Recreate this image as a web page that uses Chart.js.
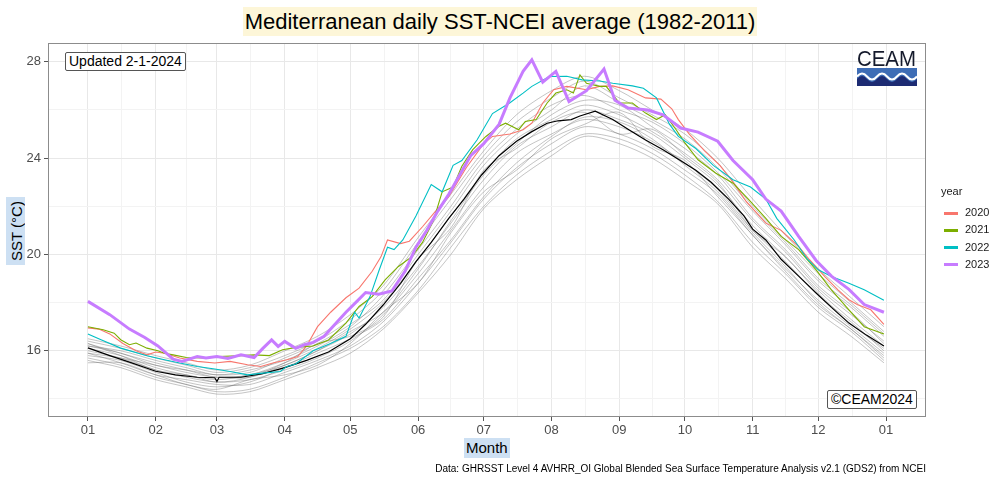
<!DOCTYPE html>
<html>
<head>
<meta charset="utf-8">
<script src="https://cdn.jsdelivr.net/npm/chart.js@4.4.0/dist/chart.umd.min.js"></script>
<style>
  body { margin: 0; background: #fff; }
  #wrap { position: relative; width: 1000px; height: 480px; font-family: "Liberation Sans", Arial, sans-serif; }
  #wrap div { position: absolute; white-space: nowrap; }
  #legend { left: 0; top: 0; width: 0; height: 0; }
  .title { left: 243px; top: 7px; width: 514px; height: 29px; line-height: 29px; background: #fdf6d8; font-size: 22px; text-align: center; color: #000; }
  .tag { border: 1px solid #555; border-radius: 2px; font-size: 14px; padding: 0 3px; line-height: 17px; color: #000; background: #fff; }
  .axt { background: #cde0f3; font-size: 15px; color: #000; }
  .lgd { font-size: 11px; color: #1a1a1a; }
  .sw { height: 3px; }
</style>
</head>
<body>
<div id="wrap">
  <canvas id="chart" width="1000" height="480"></canvas>
  <div class="title">Mediterranean daily SST-NCEI average (1982-2011)</div>
  <div class="tag" style="left:65px;top:52px;">Updated 2-1-2024</div>
  <div class="tag" style="left:827px;top:390px;">©CEAM2024</div>
  <div class="axt" style="left:464px;top:438px;height:20px;line-height:20px;padding:0 2px;">Month</div>
  <div class="axt" style="left:6px;top:197px;width:19px;height:68px;">
    <span style="position:absolute;left:50%;top:50%;transform:translate(-50%,-50%) rotate(-90deg);white-space:nowrap;">SST (°C)</span>
  </div>
  <div style="right:74px;top:463px;font-size:10px;color:#000;">Data: GHRSST Level 4 AVHRR_OI Global Blended Sea Surface Temperature Analysis v2.1 (GDS2) from NCEI</div>
  <div class="lgd" style="left:941px;top:185px;">year</div>
  <div id="legend"></div>
  <svg style="position:absolute;left:857px;top:48px;" width="60" height="40">
    <text x="0" y="18" font-family="Liberation Sans, Arial" font-size="22" textLength="59" lengthAdjust="spacingAndGlyphs" fill="#151a2c">CEAM</text>
    <rect x="0" y="20" width="60" height="18" fill="#3e6db6"/>
    <path d="M0,31 Q5,25 10,31 T20,31 T30,31 T40,31 T50,31 T60,31 L60,38 L0,38 Z" fill="#1d2b73"/>
    <path d="M0,28.5 Q5,22.5 10,28.5 T20,28.5 T30,28.5 T40,28.5 T50,28.5 T60,28.5" stroke="#fff" stroke-width="2" fill="none"/>
  </svg>
</div>
<script>
// day of year (0 = 1 Jan) and SST in degC
const monthDays = [0, 31, 59, 90, 120, 151, 181, 212, 243, 273, 304, 334, 365];
const monthLabels = ['01', '02', '03', '04', '05', '06', '07', '08', '09', '10', '11', '12', '01'];
const yTicks = [16, 20, 24, 28];
const yMinor = [14, 18, 22, 26];

const years = ['2020', '2021', '2022', '2023'];
const yearColors = ['#F8766D', '#7CAE00', '#00BFC4', '#C77CFF'];

// 1982-2011 climatology
const dayMean = [0,10,20,31,40,50,58,59,60,70,80,90,100,110,120,127,135,143,150,157,165,172,180,188,196,203,210,215,221,225,232,240,247,255,263,270,278,285,293,300,304,310,317,325,333,340,348,356,364];
const sstMean = [16.12,15.8,15.5,15.15,15.0,14.9,14.88,14.72,14.9,14.9,15.05,15.3,15.6,15.95,16.5,17.1,17.9,18.8,19.7,20.5,21.5,22.3,23.3,24.1,24.7,25.1,25.45,25.55,25.6,25.75,25.95,25.6,25.2,24.75,24.35,23.95,23.5,23.0,22.3,21.6,21.05,20.6,19.8,19.1,18.4,17.8,17.15,16.65,16.2];

const day2020 = [0,5,10,16,22,27,31,35,42,50,58,65,73,79,85,91,96,100,105,111,118,124,130,134,137,143,147,153,159,165,173,181,185,193,199,203,208,213,219,228,234,240,247,255,262,267,270,275,282,289,295,301,310,317,325,330,337,343,348,352,358,364];
const sst2020 = [16.95,16.9,16.7,16.3,16.0,15.83,15.95,15.9,15.7,15.56,15.49,15.56,15.42,15.35,15.5,15.63,15.76,16.2,17.0,17.6,18.2,18.6,19.3,19.9,20.6,20.45,20.55,21.15,21.8,22.4,23.6,24.6,24.9,25.0,25.18,25.45,26.29,26.84,26.98,26.84,26.98,27.0,26.84,26.5,26.45,26.05,25.6,25.0,24.3,23.7,23.0,22.2,21.3,21.0,20.33,19.78,19.08,18.53,18.12,17.91,17.7,17.1];

const day2021 = [0,7,12,15,19,22,27,32,35,39,45,53,60,68,76,83,89,96,103,110,118,124,130,136,142,148,153,158,162,167,171,176,182,188,191,197,200,205,210,214,219,222,225,228,234,237,243,249,255,260,264,269,273,279,287,295,302,310,317,325,333,340,348,355,364];
const sst2021 = [17.0,16.87,16.73,16.46,16.25,16.32,16.11,16.0,15.9,15.83,15.72,15.7,15.76,15.79,15.83,15.8,16.04,16.15,16.2,16.45,17.15,17.84,18.25,18.95,19.5,19.9,20.5,21.4,22.6,22.8,23.66,24.35,24.9,25.32,25.45,25.18,25.52,25.6,26.29,26.7,26.84,26.7,27.46,27.11,26.98,26.98,26.29,26.29,25.87,25.6,25.8,25.18,24.63,23.93,23.38,22.96,22.3,21.5,20.75,20.2,19.36,18.53,17.7,17.0,16.7];

const day2022 = [0,6,15,27,35,42,50,58,65,73,80,88,91,95,103,111,118,122,124,129,133,137,140,144,150,157,162,167,171,178,185,193,199,203,211,219,226,234,240,249,254,260,266,270,278,286,295,303,310,315,323,329,334,340,348,355,364];
const sst2022 = [16.7,16.46,16.11,15.79,15.63,15.49,15.35,15.24,15.14,15.0,15.07,15.14,15.35,15.45,16.0,16.3,16.6,17.6,17.36,18.25,19.3,20.3,20.2,20.6,21.6,22.9,22.6,23.7,23.9,24.76,25.85,26.3,26.7,26.98,27.39,27.4,27.25,27.2,27.11,27.0,26.9,26.5,25.4,24.9,24.4,23.7,23.1,22.8,22.3,21.5,20.6,19.8,19.36,19.08,18.8,18.53,18.1];

const day2023 = [0,10,19,26,32,39,43,50,54,59,64,70,76,80,84,87,90,95,99,103,108,113,118,123,127,133,139,145,150,155,160,165,170,175,181,188,193,199,203,208,214,220,228,236,241,247,256,263,271,279,288,295,304,310,317,325,333,340,348,355,364];
const sst2023 = [18.05,17.5,16.9,16.55,16.2,15.65,15.56,15.76,15.7,15.76,15.68,15.83,15.72,16.1,16.45,16.18,16.39,16.1,16.25,16.35,16.6,17.1,17.6,18.05,18.42,18.35,18.48,19.3,20.3,21.0,21.8,22.5,23.3,24.1,24.6,25.4,26.5,27.6,28.08,27.15,27.6,26.35,26.8,27.7,26.4,26.08,26.0,25.8,25.25,25.08,24.7,23.9,23.1,22.3,21.8,20.75,19.75,19.1,18.55,17.92,17.6];

// the other years (grey spaghetti), half-monthly readings
const dayGrey = [0,15,31,45,59,74,90,105,120,135,151,166,181,196,212,227,243,258,273,288,304,319,334,349,364];
const grey01 = [15.7,15.4,14.9,14.6,14.3,14.4,14.9,15.5,16.1,17.0,18.5,20.3,22.0,23.3,24.3,25.0,24.8,24.2,23.3,22.2,20.5,19.2,17.8,16.8,15.6];
const grey02 = [16.0,15.7,15.2,14.9,14.7,14.8,15.2,15.7,16.4,17.5,19.2,21.0,22.8,24.2,25.0,25.6,25.3,24.7,23.8,22.7,21.0,19.7,18.3,17.2,16.0];
const grey03 = [16.3,15.9,15.5,15.2,14.9,15.0,15.5,16.1,16.9,18.0,19.8,21.6,23.4,24.8,25.6,26.2,25.8,25.1,24.2,23.1,21.4,20.1,18.6,17.5,16.4];
const grey04 = [15.8,15.6,15.1,14.7,14.5,14.7,15.3,15.9,16.5,17.3,19.0,20.6,22.4,23.8,24.9,25.7,25.5,24.8,23.7,22.6,20.9,19.5,18.0,16.9,15.8];
const grey05 = [16.2,16.0,15.6,15.3,15.0,15.2,15.6,16.2,17.0,18.3,20.2,22.0,23.9,25.2,26.2,26.6,26.0,25.5,24.6,23.4,21.8,20.4,18.9,17.8,16.6];
const grey06 = [16.4,16.1,15.7,15.4,15.1,15.3,15.8,16.4,17.3,18.5,20.5,22.3,24.1,25.5,26.5,27.2,26.5,25.8,25.0,23.8,22.0,20.6,19.2,18.0,16.8];
const grey07 = [15.9,15.5,15.0,14.8,14.6,14.6,15.1,15.6,16.2,17.2,18.8,20.5,22.3,23.6,24.6,25.3,25.0,24.4,23.5,22.5,20.8,19.4,18.1,17.0,15.9];
const grey08 = [16.1,15.8,15.3,15.0,14.8,15.0,15.4,16.0,16.7,17.8,19.5,21.3,23.1,24.5,25.3,26.0,25.6,25.0,24.0,22.9,21.2,19.9,18.5,17.3,16.2];
const grey09 = [15.9,15.7,15.4,15.1,14.9,14.9,15.4,16.0,16.8,17.6,19.4,21.4,23.3,24.6,25.8,26.4,26.2,25.3,24.4,23.3,21.5,20.2,18.7,17.6,16.3];
const grey10 = [16.2,15.9,15.4,15.2,15.0,15.1,15.7,16.3,17.1,18.1,20.0,21.8,23.7,25.0,26.0,27.0,26.3,25.6,24.8,23.6,21.9,20.5,19.0,17.9,16.7];
const grey11 = [15.6,15.3,14.8,14.5,14.2,14.3,14.8,15.3,15.9,16.9,18.4,20.0,21.9,23.1,24.1,24.9,24.6,24.0,23.1,22.1,20.3,19.0,17.6,16.6,15.5];
const grey12 = [16.5,16.2,15.8,15.5,15.2,15.4,16.0,16.6,17.5,18.7,20.7,22.5,24.3,25.8,26.8,27.4,26.8,26.0,25.2,24.0,22.3,20.8,19.4,18.2,17.0];
const grey13 = [15.5,15.5,15.0,14.6,14.4,14.8,15.0,15.4,16.3,17.6,18.8,20.9,22.6,23.5,24.8,25.4,25.9,24.5,23.9,22.4,20.8,19.3,17.9,16.9,15.7];
const grey14 = [16.3,15.8,15.2,15.0,14.7,14.9,15.5,16.3,16.6,17.4,19.8,21.1,23.5,24.4,25.5,25.9,25.0,25.2,24.1,23.0,21.0,19.9,18.4,17.1,16.1];
const greyYears = [grey01, grey02, grey03, grey04, grey05, grey06, grey07, grey08, grey09, grey10, grey11, grey12, grey13, grey14];

function pts(days, vals) {
    return days.map((d, i) => ({ x: d, y: vals[i] }));
}

const datasets = [];
const yearDays = [day2020, day2021, day2022, day2023];
const yearSst = [sst2020, sst2021, sst2022, sst2023];
years.forEach((y, i) => {
    datasets.push({
        label: y,
        data: pts(yearDays[i], yearSst[i]),
        borderColor: yearColors[i],
        borderWidth: y === '2023' ? 3 : 1.1,
        order: 3 - i
    });
});
datasets.push({ label: 'mean', data: pts(dayMean, sstMean), borderColor: '#000', borderWidth: 1.2, order: 4 });
greyYears.forEach((g, i) => {
    datasets.push({
        label: 'grey' + i,
        data: pts(dayGrey, g),
        borderColor: 'rgba(100,100,100,0.38)',
        borderWidth: 1,
        tension: 0.3,
        order: 5
    });
});

// html legend for the highlighted years
const legendBox = document.getElementById('legend');
years.forEach((y, i) => {
    const top = 213 + i * 17.3;
    legendBox.insertAdjacentHTML('beforeend',
        '<div class="sw" style="left:944px;top:' + (top - 1.5) + 'px;width:14px;background:' + yearColors[i] + ';"></div>' +
        '<div class="lgd" style="left:965px;top:' + (top - 7) + 'px;">' + y + '</div>');
});

const xMinor = monthDays.slice(1).map((d, i) => (d + monthDays[i]) / 2);
const tickFont = { family: "'Liberation Sans', Arial, sans-serif", size: 13 };

const panelBorder = {
    id: 'panelBorder',
    afterDraw(chart) {
        const a = chart.chartArea, ctx = chart.ctx;
        ctx.save();
        ctx.strokeStyle = '#8c8c8c';
        ctx.lineWidth = 1;
        ctx.strokeRect(a.left + 0.5, a.top + 0.5, a.right - a.left - 1, a.bottom - a.top - 1);
        ctx.restore();
    }
};

new Chart(document.getElementById('chart').getContext('2d'), {
    type: 'line',
    data: { datasets: datasets },
    options: {
        responsive: false,
        animation: false,
        devicePixelRatio: 1,
        layout: { padding: { left: 0, top: 43, right: 74, bottom: 0 } },
        elements: { point: { radius: 0 }, line: { tension: 0 } },
        plugins: { legend: { display: false }, tooltip: { enabled: false } },
        scales: {
            x: {
                type: 'linear',
                min: -18.25,
                max: 383.25,
                afterBuildTicks: axis => {
                    axis.ticks = monthDays.concat(xMinor).sort((a, b) => a - b).map(v => ({ value: v }));
                },
                afterFit: axis => { axis.height = 63; },
                border: { display: false },
                grid: {
                    color: c => monthDays.includes(c.tick.value) ? '#e8e8e8' : '#f3f3f3',
                    lineWidth: 1,
                    tickLength: 4,
                    tickColor: c => monthDays.includes(c.tick.value) ? '#555' : 'rgba(0,0,0,0)'
                },
                ticks: {
                    autoSkip: false,
                    maxRotation: 0,
                    padding: 2,
                    color: '#4d4d4d',
                    font: tickFont,
                    callback: v => {
                        const i = monthDays.indexOf(v);
                        return i >= 0 ? monthLabels[i] : '';
                    }
                }
            },
            y: {
                type: 'linear',
                min: 13.25,
                max: 28.78,
                afterBuildTicks: axis => {
                    axis.ticks = yMinor.concat(yTicks).sort((a, b) => a - b).map(v => ({ value: v }));
                },
                afterFit: axis => { axis.width = 48; },
                border: { display: false },
                grid: {
                    color: c => yTicks.includes(c.tick.value) ? '#e8e8e8' : '#f3f3f3',
                    lineWidth: 1,
                    tickLength: 4,
                    tickColor: c => yTicks.includes(c.tick.value) ? '#555' : 'rgba(0,0,0,0)'
                },
                ticks: {
                    autoSkip: false,
                    padding: 3,
                    color: '#4d4d4d',
                    font: tickFont,
                    callback: v => yTicks.includes(v) ? String(v) : ''
                }
            }
        }
    },
    plugins: [panelBorder]
});
</script>
</body>
</html>
